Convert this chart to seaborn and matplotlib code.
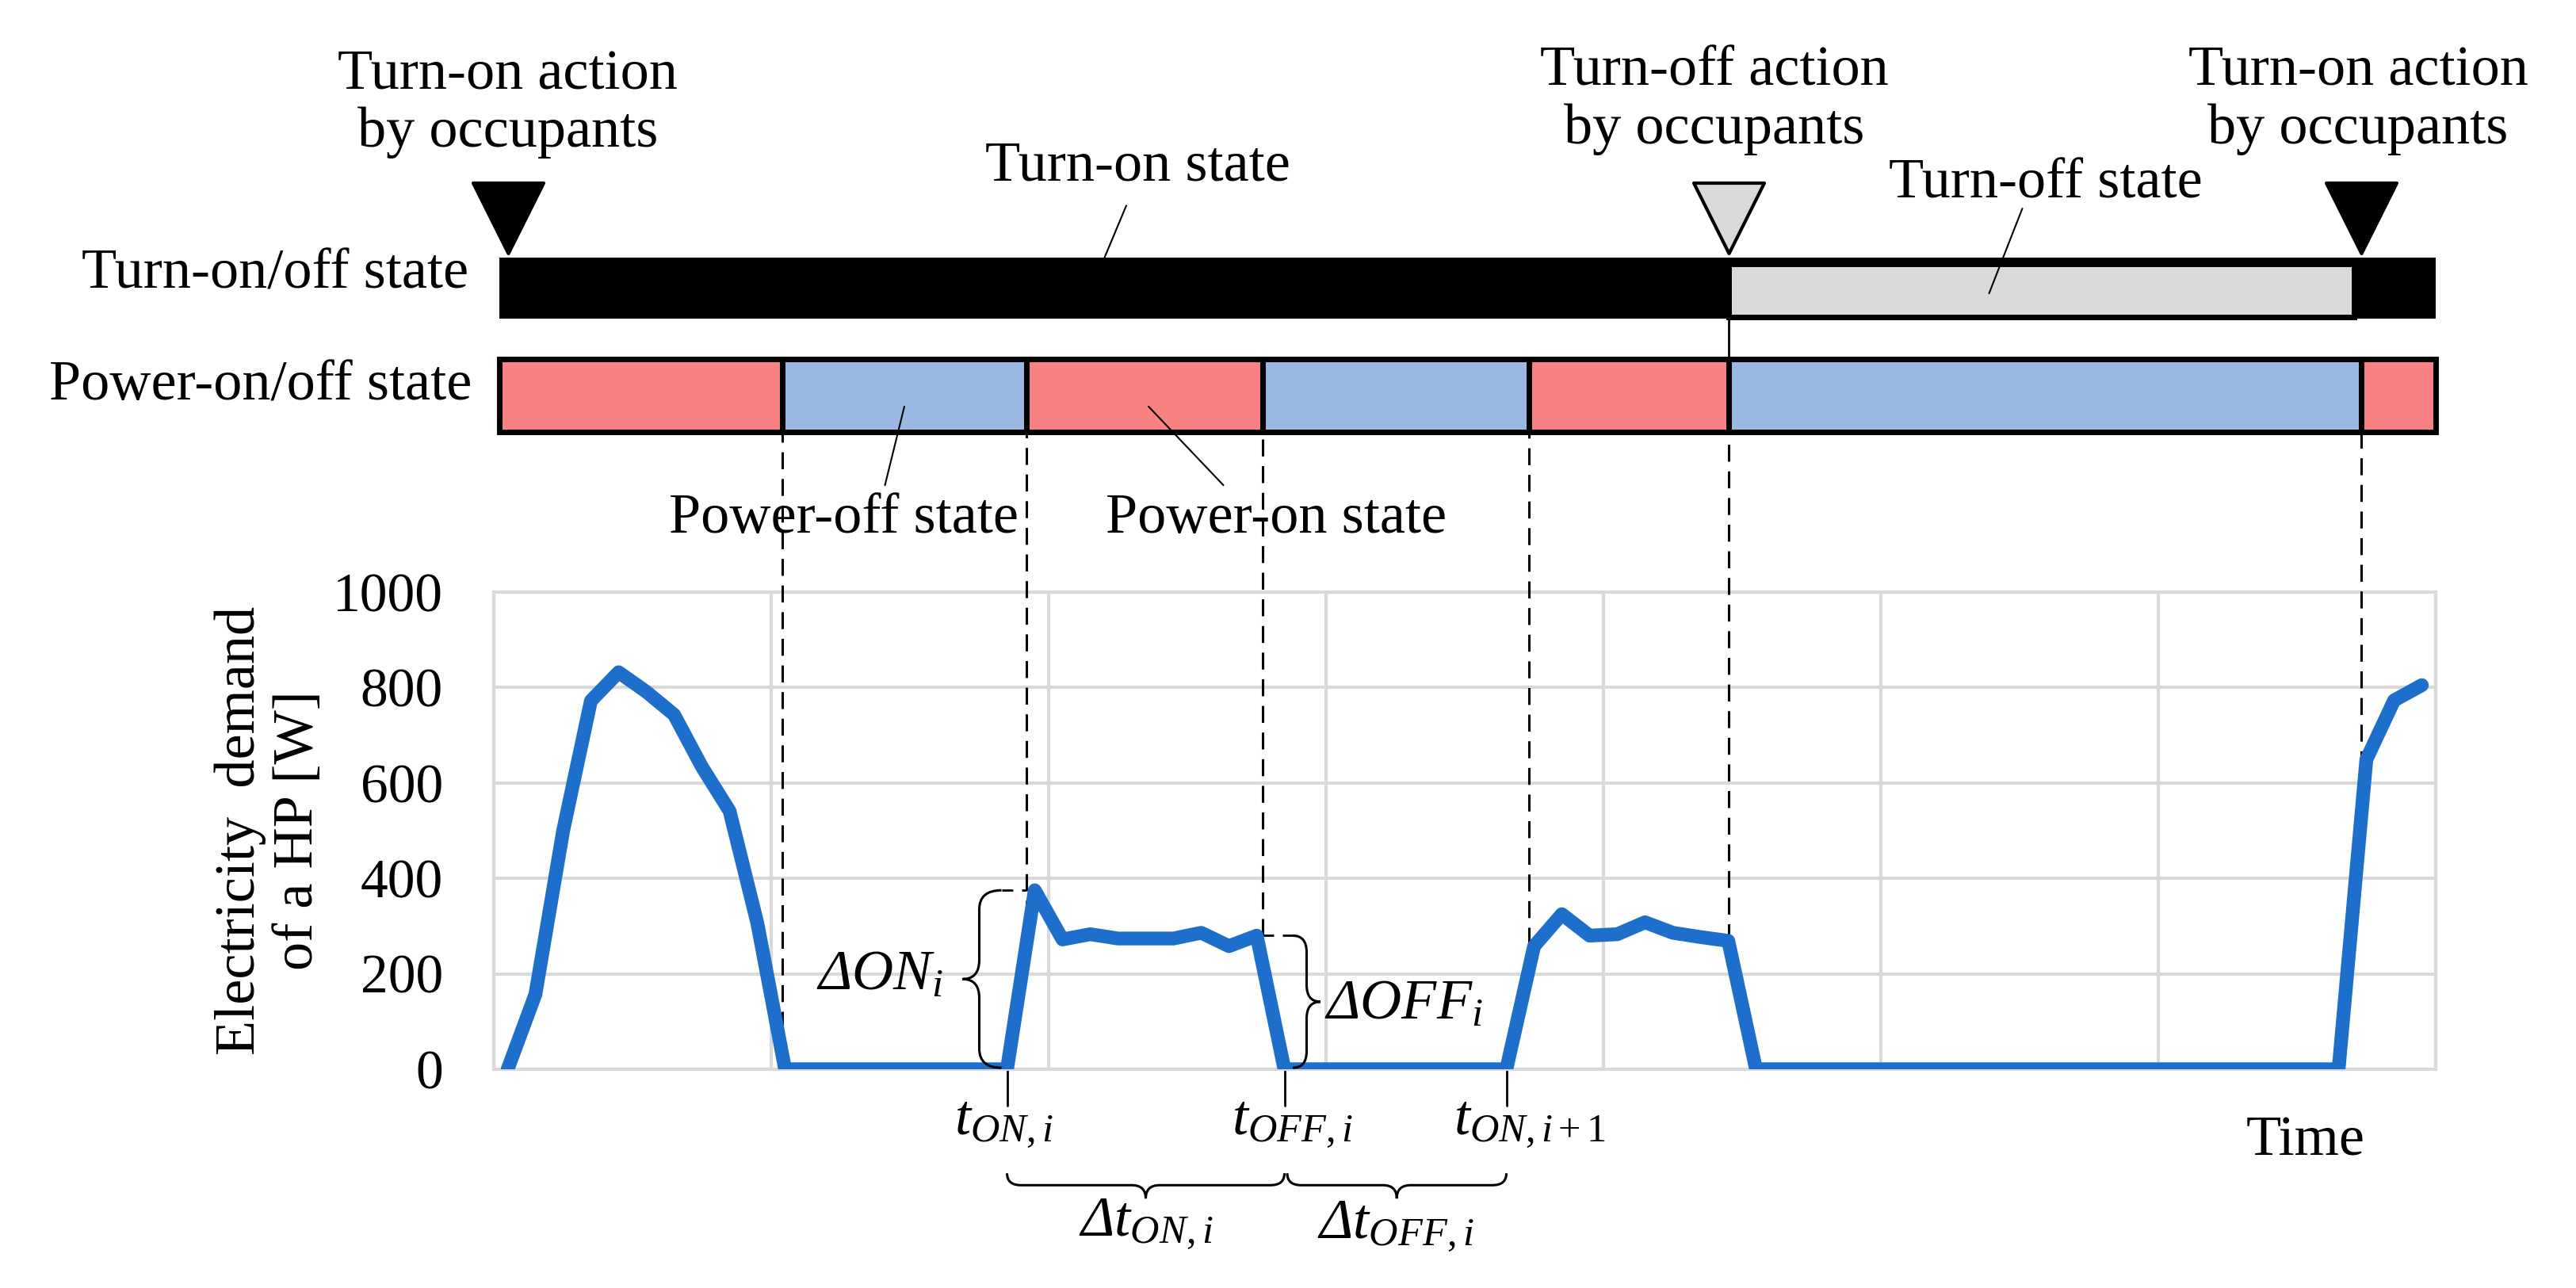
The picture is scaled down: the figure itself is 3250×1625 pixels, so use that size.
import numpy as np
import pandas as pd
import seaborn as sns
import matplotlib.pyplot as plt
from matplotlib.path import Path
from matplotlib.patches import PathPatch

# Electricity demand of the HP, one value per time step [W]
demand = [0, 157, 500, 772, 832, 791, 743, 634, 541, 306,
          0, 0, 0, 0, 0, 0, 0, 0, 0, 375,
          272, 283, 274, 274, 274, 286, 258, 280, 0, 0,
          0, 0, 0, 0, 0, 0, 0, 258, 325, 280,
          283, 308, 286, 277, 269, 0, 0, 0, 0, 0,
          0, 0, 0, 0, 0, 0, 0, 0, 0, 0,
          0, 0, 0, 0, 0, 0, 0, 649, 773, 805]
steps = list(range(len(demand)))

# occupant actions (time step) and their type
action_times = [0.0, 44.0, 66.8]
action_types = ['on', 'off', 'on']

# power-on/off state switching times and the state of each segment
power_edges = [-0.3, 9.9, 18.7, 27.2, 36.8, 44.0, 66.8, 69.5]
power_states = ['on', 'off', 'on', 'off', 'on', 'off', 'on']

# marked time steps
t_on_i = 18
t_off_i = 28
t_on_next = 36

y_ticks = [0, 200, 400, 600, 800, 1000]

RED = '#F88282'
BLUE = '#99B9E4'
GRAY = '#D9D9D9'
LINE = '#1E6FCC'

sns.set_theme(style='white')
plt.rcParams['font.family'] = ['Liberation Serif', 'DejaVu Serif']
plt.rcParams['mathtext.fontset'] = 'custom'
plt.rcParams['mathtext.rm'] = 'Liberation Serif'
plt.rcParams['mathtext.it'] = 'Liberation Serif:italic'
plt.rcParams['text.color'] = 'black'
plt.rcParams['ytick.color'] = 'black'

fig = plt.figure(figsize=(32.5, 16.25), dpi=100)
ax = fig.add_axes([623 / 3250, 1 - 1349 / 1625, 2450 / 3250, 602 / 1625])

df = pd.DataFrame({'step': steps, 'demand': demand})
sns.lineplot(data=df, x='step', y='demand', color=LINE, lw=12.5, ax=ax,
             solid_joinstyle='round', solid_capstyle='round', zorder=5)

ax.set_xlim(-0.5, 69.5)
ax.set_ylim(0, 1000)
ax.set_xticks(np.arange(-0.5, 70, 10))
ax.set_xticklabels([])
ax.set_yticks(y_ticks)
ax.set_yticklabels([str(v) for v in y_ticks], fontsize=50, color='black')
ax.tick_params(length=0)
ax.tick_params(axis='y', pad=46)
ax.grid(True, color=GRAY, lw=3)
for s in ax.spines.values():
    s.set_color(GRAY)
    s.set_linewidth(3)
ax.set_xlabel('')
ax.set_ylabel('')

FS = 52

# y-axis label
ax.text(-8.6, 500, 'Electricity  demand\nof a HP [W]', rotation=90, ha='center',
        va='center', multialignment='center', fontsize=FS, linespacing=1.15)
ax.text(64.8, -151, 'Time', ha='center', va='center', fontsize=FS)

# turn-on/off state bar
end = power_edges[-1]
start = power_edges[0]
bars = ax.barh(1637, end - start, left=start, height=128, color='black', lw=0)
for p in bars:
    p.set_clip_on(False)
off_start = action_times[1]
off_end = action_times[2] - 0.25
bars = ax.barh(1632, off_end - off_start, left=off_start, height=112, color=GRAY,
               edgecolor='black', lw=5)
for p in bars:
    p.set_clip_on(False)

# power-on/off state bar
lefts = power_edges[:-1]
widths = np.diff(power_edges)
colors = [RED if s == 'on' else BLUE for s in power_states]
bars = ax.barh([1412] * len(lefts), widths, left=lefts, height=153, color=colors,
               edgecolor='black', lw=5)
for p in bars:
    p.set_clip_on(False)

# action triangles
for t, kind in zip(action_times, action_types):
    fc = 'black' if kind == 'on' else GRAY
    ax.scatter([t], [1784], marker='v', s=4100, color=fc, edgecolor='black',
               linewidth=3, clip_on=False, zorder=6)

ax.text(action_times[0], 2023, 'Turn-on action\nby occupants', ha='center', va='center',
        fontsize=FS, linespacing=1.15)
ax.text(action_times[1] - 0.5, 2030, 'Turn-off action\nby occupants', ha='center',
        va='center', fontsize=FS, linespacing=1.15)
ax.text(action_times[2] - 0.1, 2030, 'Turn-on action\nby occupants', ha='center',
        va='center', fontsize=FS, linespacing=1.15)

ax.text(-1.4, 1666, 'Turn-on/off state', ha='right', va='center', fontsize=FS)
ax.text(-1.3, 1432, 'Power-on/off state', ha='right', va='center', fontsize=FS)

# state labels with leader lines
ax.text(22.7, 1892, 'Turn-on state', ha='center', va='center', fontsize=FS)
ax.plot([22.3, 21.5], [1810, 1699], color='black', lw=1.5, clip_on=False)
ax.text(55.45, 1855, 'Turn-off state', ha='center', va='center', fontsize=FS)
ax.plot([54.6, 53.4], [1804, 1626], color='black', lw=1.5, clip_on=False)
ax.text(12.1, 1153, 'Power-off state', ha='center', va='center', fontsize=FS)
ax.plot([14.3, 13.6], [1389, 1224], color='black', lw=1.5, clip_on=False)
ax.text(27.7, 1153, 'Power-on state', ha='center', va='center', fontsize=FS)
ax.plot([23.1, 25.8], [1389, 1224], color='black', lw=1.5, clip_on=False)

# dashed switching lines
for x in power_edges[1:-1]:
    y_end = np.interp(x, steps, demand)
    ax.plot([x, x], [y_end, 1335], color='black', lw=2.2, ls='--', dashes=(7, 4),
            clip_on=False, zorder=4)
ax.plot([off_start, off_start], [1335, 1573], color='black', lw=2, clip_on=False)


def brace(ax, a, b, pos, end_dx, tip_dx, r, vertical=True):
    # curly brace from a to b along one axis, spine at pos
    m = (a + b) / 2
    e = pos + end_dx
    t = pos - tip_dx
    pts = [(e, a), (pos, a), (pos, a + r), (pos, m - r), (pos, m), (t, m),
           (pos, m), (pos, m + r), (pos, b - r), (pos, b), (e, b)]
    codes = [Path.MOVETO, Path.CURVE3, Path.CURVE3, Path.LINETO, Path.CURVE3,
             Path.CURVE3, Path.CURVE3, Path.CURVE3, Path.LINETO, Path.CURVE3,
             Path.CURVE3]
    if not vertical:
        pts = [(q, p) for p, q in pts]
    ax.add_patch(PathPatch(Path(pts, codes), fill=False, color='black', lw=2.2,
                           clip_on=False, zorder=6))


# delta ON / OFF braces
on_peak = demand[t_on_i + 1]
brace(ax, 3, on_peak, t_on_i - 1.0, 0.8, 0.6, 40)
ax.plot([t_on_i - 0.2, power_edges[2]], [on_peak, on_peak], color='black', lw=2,
        ls='--', dashes=(5, 4), zorder=4)
ax.text(13.4, 196, r'Δ$ON_i$', ha='center', va='center', fontsize=FS, style='italic')

off_level = demand[t_off_i - 1]
brace(ax, 3, off_level, t_off_i + 0.8, -0.5, -0.5, 35)
ax.plot([power_edges[3], t_off_i + 0.3], [off_level, off_level], color='black', lw=2,
        ls='--', dashes=(5, 4), zorder=4)
ax.text(32.3, 136, r'Δ$OFF_i$', ha='center', va='center', fontsize=FS, style='italic')

# time marks below the axis
for t, lab in zip([t_on_i, t_off_i, t_on_next],
                  [r'$t_{ON,i}$', r'$t_{OFF,i}$', r'$t_{ON,i+1}$']):
    ax.plot([t, t], [0, -76], color='black', lw=2, clip_on=False)
    ax.text(t - 1.9, -115, lab, ha='left', va='center', fontsize=FS)

brace(ax, t_on_i, t_off_i, -243, 25, 28, 0.5, vertical=False)
brace(ax, t_off_i + 0.1, t_on_next, -243, 25, 28, 0.5, vertical=False)
ax.text((t_on_i + t_off_i) / 2, -325, r'Δ$t_{ON,i}$', ha='center',
        va='center', fontsize=FS, style='italic')
ax.text((t_off_i + t_on_next) / 2, -330, r'Δ$t_{OFF,i}$', ha='center',
        va='center', fontsize=FS, style='italic')

fig.savefig('out.png', dpi=100)
